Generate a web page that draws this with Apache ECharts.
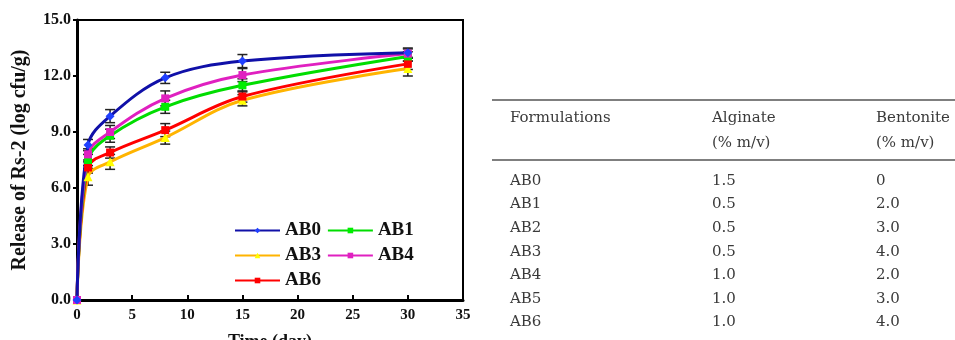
<!DOCTYPE html>
<html>
<head>
<meta charset="utf-8">
<script src="https://cdn.jsdelivr.net/npm/echarts@6/dist/echarts.min.js"></script>
<style>
  html, body { margin: 0; padding: 0; background: #fff; }
  #chart { width: 955px; height: 340px; }
</style>
</head>
<body>
<div id="chart"></div>
<script>
// release data (log cfu/g)
const days = [0, 1, 3, 8, 15, 30]
const ab0 = [0, 8.3, 9.85, 11.9, 12.8, 13.25]
const ab1 = [0, 7.5, 8.8, 10.35, 11.5, 13.05]
const ab3 = [0, 6.6, 7.4, 8.7, 10.7, 12.4]
const ab4 = [0, 7.8, 9.0, 10.8, 12.05, 13.2]
const ab6 = [0, 7.1, 7.9, 9.1, 10.9, 12.65]
// error bar half-heights
const ab0Err = [0, 0.3, 0.35, 0.3, 0.35, 0.25]
const ab1Err = [0, 0.3, 0.35, 0.35, 0.35, 0.25]
const ab3Err = [0, 0.45, 0.4, 0.35, 0.3, 0.4]
const ab4Err = [0, 0.3, 0.35, 0.4, 0.35, 0.25]
const ab6Err = [0, 0.3, 0.3, 0.35, 0.3, 0.3]

const yTicks = [0, 3, 6, 9, 12, 15]
const xTicks = [0, 5, 10, 15, 20, 25, 30, 35]

// table on the right
const tableHead = [['Formulations', ''], ['Alginate', '(% m/v)'], ['Bentonite', '(% m/v)']]
const formulations = ['AB0', 'AB1', 'AB2', 'AB3', 'AB4', 'AB5', 'AB6']
const alginate = ['1.5', '0.5', '0.5', '0.5', '1.0', '1.0', '1.0']
const bentonite = ['0', '2.0', '3.0', '4.0', '2.0', '3.0', '4.0']

const serif = 'Liberation Serif'
const tableFont = 'DejaVu Serif'

const chart = echarts.init(document.getElementById('chart'), null, { renderer: 'canvas' })

function lineSeries(name, vals, lineColor, markColor, symbol, size) {
  return {
    name: name,
    type: 'line',
    data: days.map((d, i) => [d, vals[i]]),
    smooth: 0.35,
    symbol: symbol,
    symbolSize: size,
    z: 3,
    lineStyle: { color: lineColor, width: 3 },
    itemStyle: { color: markColor, borderWidth: 0 }
  }
}

function errSeries(vals, errs) {
  return {
    type: 'custom',
    silent: true,
    z: 2,
    data: days.map((d, i) => [d, vals[i], errs[i]]),
    renderItem(params, api) {
      const x = api.value(0), y = api.value(1), e = api.value(2)
      if (!e) return null
      const lo = api.coord([x, y - e])
      const hi = api.coord([x, y + e])
      const w = 5
      const st = { stroke: '#222', lineWidth: 1.5 }
      return {
        type: 'group',
        children: [
          { type: 'line', shape: { x1: lo[0], y1: lo[1], x2: hi[0], y2: hi[1] }, style: st },
          { type: 'line', shape: { x1: lo[0] - w, y1: lo[1], x2: lo[0] + w, y2: lo[1] }, style: st },
          { type: 'line', shape: { x1: hi[0] - w, y1: hi[1], x2: hi[0] + w, y2: hi[1] }, style: st }
        ]
      }
    }
  }
}

// table graphics
const colX = [510, 712, 876]
const rowY0 = 181
const rowStep = 23.6
const tableGraphic = []
tableGraphic.push({ type: 'line', shape: { x1: 492, y1: 100, x2: 955, y2: 100 }, style: { stroke: '#555', lineWidth: 1.5 } })
tableGraphic.push({ type: 'line', shape: { x1: 492, y1: 160, x2: 955, y2: 160 }, style: { stroke: '#555', lineWidth: 1.5 } })
tableHead.forEach((h, c) => {
  h.forEach((t, k) => {
    if (!t) return
    tableGraphic.push({
      type: 'text', x: colX[c], y: 118 + k * 25,
      style: { text: t, font: '15px "' + tableFont + '"', fill: '#3a3a3a', textVerticalAlign: 'middle' }
    })
  })
})
formulations.forEach((f, r) => {
  const row = [f, alginate[r], bentonite[r]]
  row.forEach((t, c) => {
    tableGraphic.push({
      type: 'text', x: colX[c], y: rowY0 + r * rowStep,
      style: { text: t, font: '15px "' + tableFont + '"', fill: '#3a3a3a', textVerticalAlign: 'middle' }
    })
  })
})

chart.setOption({
  backgroundColor: '#fff',
  animation: false,
  grid: {
    left: 77,
    right: 492,
    top: 20,
    bottom: 40,
    outerBoundsMode: 'none',
    show: true,
    borderColor: '#000',
    borderWidth: 2
  },
  legend: {
    left: 229,
    top: 216,
    width: 200,
    itemWidth: 45,
    itemHeight: 7,
    itemGap: 6,
    data: ['AB0', 'AB1', 'AB3', 'AB4', 'AB6'],
    textStyle: { fontFamily: serif, fontWeight: 'bold', fontSize: 19, color: '#111', lineHeight: 18 }
  },
  xAxis: {
    type: 'value',
    min: 0,
    max: 35,
    interval: 5,
    name: 'Time (day)',
    nameLocation: 'middle',
    nameGap: 33,
    nameTextStyle: { fontFamily: serif, fontWeight: 'bold', fontSize: 18, color: '#111' },
    axisLine: { show: true, onZero: false, lineStyle: { color: '#000', width: 3 } },
    axisTick: { show: true, inside: true, length: 5, lineStyle: { color: '#000', width: 2 } },
    axisLabel: {
      margin: 8,
      fontFamily: serif, fontWeight: 'bold', fontSize: 15, color: '#111',
      formatter: v => xTicks.includes(v) ? String(v) : ''
    },
    splitLine: { show: false }
  },
  yAxis: {
    type: 'value',
    min: 0,
    max: 15,
    interval: 3,
    name: 'Release of Rs-2 (log cfu/g)',
    nameLocation: 'middle',
    nameGap: 47,
    nameTextStyle: { fontFamily: serif, fontWeight: 'bold', fontSize: 20, color: '#111' },
    axisLine: { show: true, onZero: false, lineStyle: { color: '#000', width: 3 } },
    axisTick: { show: true, inside: false, length: 4, lineStyle: { color: '#000', width: 2 } },
    axisLabel: {
      margin: 6,
      fontFamily: serif, fontWeight: 'bold', fontSize: 16, color: '#111',
      formatter: v => yTicks.includes(v) ? v.toFixed(1) : ''
    },
    splitLine: { show: false }
  },
  series: [
    errSeries(ab0, ab0Err),
    errSeries(ab1, ab1Err),
    errSeries(ab3, ab3Err),
    errSeries(ab4, ab4Err),
    errSeries(ab6, ab6Err),
    lineSeries('AB3', ab3, '#ffb400', '#ffff00', 'triangle', 9),
    lineSeries('AB6', ab6, '#ff0000', '#ff0000', 'rect', 8),
    lineSeries('AB1', ab1, '#00dd00', '#00ee00', 'rect', 8),
    lineSeries('AB4', ab4, '#e020c0', '#e020c0', 'rect', 8),
    lineSeries('AB0', ab0, '#1010a8', '#2040ff', 'diamond', 9)
  ],
  graphic: tableGraphic
})
</script>
</body>
</html>
